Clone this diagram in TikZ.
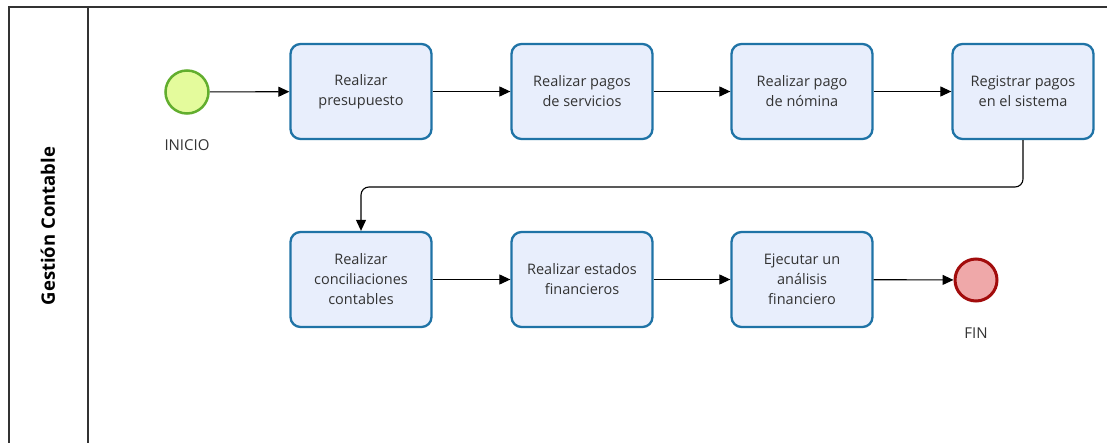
\documentclass[tikz,border=0pt]{standalone}
\usepackage{fontspec}
\setmainfont{Open Sans}
\usetikzlibrary{arrows.meta}
\definecolor{taskfill}{HTML}{E8EEFC}
\definecolor{taskdraw}{HTML}{1F73A6}
\definecolor{startfill}{HTML}{E4FB9C}
\definecolor{startdraw}{HTML}{62AE2E}
\definecolor{endfill}{HTML}{EFA8A9}
\definecolor{enddraw}{HTML}{A20C0C}
\definecolor{framec}{HTML}{333333}
\begin{document}
\begin{tikzpicture}[x=1pt,y=-1pt,
  task/.style={draw=taskdraw,fill=taskfill,line width=2.3pt,rounded corners=10pt,
    minimum width=141pt,minimum height=95pt,align=center,font=\fontsize{14.5}{20}\selectfont,text=black!80,inner sep=2pt},
  startev/.style={circle,draw=startdraw,fill=startfill,line width=2.5pt,minimum size=43pt,inner sep=0pt},
  endev/.style={circle,draw=enddraw,fill=endfill,line width=3pt,minimum size=42pt,inner sep=0pt},
  evlabel/.style={font=\fontsize{15}{18}\selectfont,text=black!80},
  flow/.style={-{Triangle[length=11pt,width=10pt]},line width=1.1pt},
  frame/.style={draw=framec,line width=1.4pt}]
\useasboundingbox (0,0) rectangle (1107,443);
\fill[white] (0,0) rectangle (1107,443);
% pool frame
\draw[frame] (9,445) -- (9,7) -- (1110,7);
\draw[frame] (88,7) -- (88,445);
\node[rotate=90,font=\bfseries\fontsize{18.5}{20}\selectfont,text=black] (lane) at (48,226) {Gestión Contable};
% events
\node[startev] (start) at (187,92) {};
\node[evlabel] (startlbl) at (187,145) {INICIO};
\node[endev] (end) at (976,280) {};
\node[evlabel] (endlbl) at (976,333) {FIN};
% tasks
\node[task] (t1) at (361,91.5) {Realizar\\presupuesto};
\node[task] (t2) at (582,91.5) {Realizar pagos\\de servicios};
\node[task] (t3) at (802,91.5) {Realizar pago\\de nómina};
\node[task] (t4) at (1023,91.5) {Registrar pagos\\en el sistema};
\node[task] (t5) at (361,279.5) {Realizar\\conciliaciones\\contables};
\node[task] (t6) at (582,279.5) {Realizar estados\\financieros};
\node[task] (t7) at (802,279.5) {Ejecutar un\\análisis\\financiero};
% flows
\draw[flow] (start) -- (t1);
\draw[flow] (t1) -- (t2);
\draw[flow] (t2) -- (t3);
\draw[flow] (t3) -- (t4);
\draw[flow,rounded corners=8pt] (t4.south) -- (1023,187) -- (361,187) -- (t5.north);
\draw[flow] (t5) -- (t6);
\draw[flow] (t6) -- (t7);
\draw[flow] (t7) -- (end);
\end{tikzpicture}
\end{document}
